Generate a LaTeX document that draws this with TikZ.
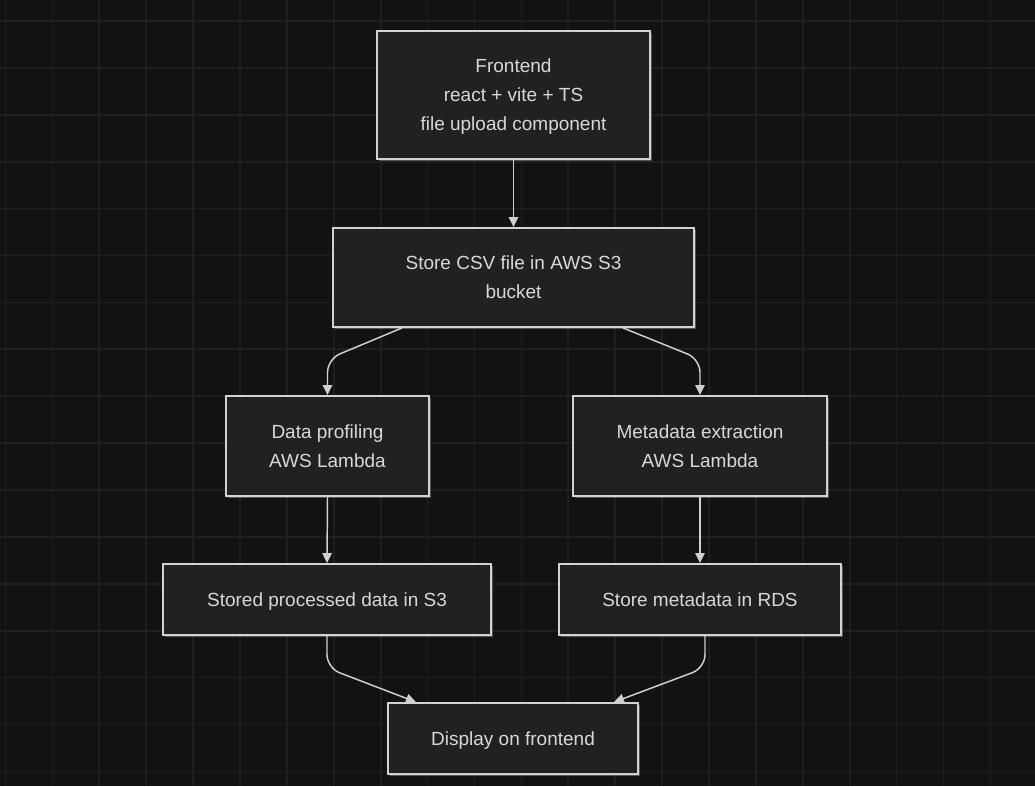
\documentclass[tikz,border=0pt]{standalone}
\usepackage{fontspec}
\setmainfont{Liberation Sans}
\usetikzlibrary{arrows.meta,calc,shadows}
\definecolor{bgcol}{HTML}{121214}
\definecolor{gridcol}{HTML}{1E1F21}
\definecolor{boxfill}{HTML}{202121}
\definecolor{boxline}{HTML}{D2D2D2}
\definecolor{txtcol}{HTML}{D8D8D8}
\definecolor{linecol}{HTML}{D0D0D0}
\tikzset{
  gridline/.style={draw=gridcol, line width=1.3pt},
  procbox/.style={rectangle, draw=boxline, fill=boxfill, line width=1.4pt,
    text=txtcol, align=center, inner sep=0pt, text depth=0pt,
    font=\fontsize{14.25pt}{21.75pt}\selectfont,
    drop shadow={shadow xshift=1.6pt, shadow yshift=-1.6pt, fill=gray!70, opacity=0.45}},
  conn/.style={draw=linecol, line width=1.1pt, -{Triangle[length=7.5pt,width=7pt]}, rounded corners=10pt}
}
\begin{document}
\begin{tikzpicture}[x=0.75pt,y=-0.75pt]
\useasboundingbox (0,0) rectangle (1035,786);
\fill[bgcol] (0,0) rectangle (1035,786);
\foreach \i in {0,...,22} {
  \draw[gridline] (5.5+46.9*\i,0) -- (5.5+46.9*\i,786);
}
\foreach \j in {0,...,16} {
  \draw[gridline] (0,21+46.9*\j) -- (1035,21+46.9*\j);
}
\node[procbox, minimum width={273*0.75pt}, minimum height={128*0.75pt}] (A) at (513.5,95) {Frontend\\react + vite + TS\\file upload component};
\node[procbox, minimum width={361*0.75pt}, minimum height={99*0.75pt}] (B) at (513.5,277.5) {Store CSV file in AWS S3\\bucket};
\node[procbox, minimum width={203*0.75pt}, minimum height={100*0.75pt}] (C) at (327.5,446) {Data profiling\\AWS Lambda};
\node[procbox, minimum width={254*0.75pt}, minimum height={100*0.75pt}] (D) at (700,446) {Metadata extraction\\AWS Lambda};
\node[procbox, minimum width={328*0.75pt}, minimum height={71*0.75pt}] (E) at (327,599.5) {Stored processed data in S3};
\node[procbox, minimum width={282*0.75pt}, minimum height={71*0.75pt}] (F) at (700,599.5) {Store metadata in RDS};
\node[procbox, minimum width={250*0.75pt}, minimum height={71*0.75pt}] (G) at (513,738.5) {Display on frontend};

\draw[conn] (A.south) -- (B.north);
\draw[conn] ($(B.south)+(-111.5,0)$) -- ($(C.north)+(0,-36)$) -- (C.north);
\draw[conn] ($(B.south)+(109.5,0)$) -- ($(D.north)+(0,-36)$) -- (D.north);
\draw[conn] (C.south) -- (E.north);
\draw[conn] (D.south) -- (F.north);
\draw[conn] (E.south) -- ($(E.south)+(0,32)$) -- ($(G.north)+(-97,0)$);
\draw[conn] ($(F.south)+(5,0)$) -- ($(F.south)+(5,32)$) -- ($(G.north)+(101,0)$);
\end{tikzpicture}
\end{document}
